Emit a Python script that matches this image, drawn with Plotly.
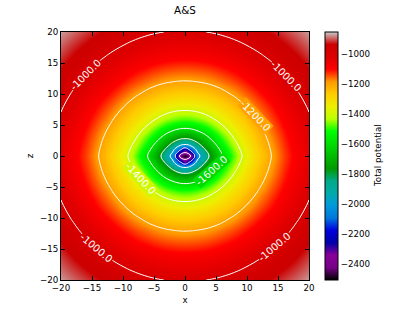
import plotly.graph_objects as go

# Quadrant grid (x >= 0, z >= 0); the field is mirrored to the other quadrants
grid_q = [0, 1, 2, 3, 4, 5, 6, 8, 10, 12, 14, 16, 18, 20]

# Total potential read/estimated on the quadrant grid: rows = z, columns = x
phi_q = [
    [-2500.0, -2390.0, -2066.4, -1903.0, -1783.9, -1685.8, -1601.8, -1464.3, -1356.5, -1269.4, -1197.4, -1136.3, -1083.5, -1037.2],
    [-2318.9, -2148.4, -1960.4, -1831.0, -1730.1, -1644.9, -1570.3, -1445.2, -1344.4, -1261.5, -1191.8, -1132.4, -1080.5, -1035.2],
    [-1945.9, -1904.6, -1821.4, -1737.2, -1660.6, -1591.4, -1528.5, -1418.8, -1327.1, -1249.5, -1183.6, -1126.3, -1075.9, -1031.3],
    [-1762.7, -1745.4, -1702.3, -1648.4, -1592.1, -1537.5, -1485.3, -1390.2, -1307.5, -1235.8, -1173.4, -1118.6, -1070.1, -1026.9],
    [-1641.4, -1631.7, -1605.8, -1569.4, -1528.1, -1485.1, -1442.2, -1360.3, -1286.4, -1220.5, -1162.1, -1110.0, -1063.4, -1021.4],
    [-1550.1, -1544.1, -1526.6, -1500.8, -1469.7, -1435.5, -1400.2, -1330.3, -1264.3, -1204.0, -1149.4, -1100.2, -1055.6, -1015.2],
    [-1476.9, -1472.5, -1460.0, -1440.8, -1416.7, -1389.3, -1360.2, -1300.3, -1241.8, -1186.9, -1136.2, -1089.7, -1047.2, -1008.5],
    [-1362.7, -1360.1, -1352.7, -1340.9, -1325.3, -1307.1, -1286.7, -1242.3, -1196.1, -1150.9, -1107.5, -1066.5, -1028.5, -992.8],
    [-1274.9, -1273.2, -1268.3, -1260.4, -1249.5, -1236.6, -1221.8, -1188.1, -1151.8, -1114.4, -1077.5, -1041.7, -1007.8, -975.3],
    [-1203.5, -1202.4, -1198.7, -1193.1, -1185.3, -1175.6, -1164.5, -1138.5, -1109.3, -1078.3, -1047.1, -1016.0, -985.7, -956.7],
    [-1143.5, -1142.5, -1140.1, -1135.6, -1129.7, -1122.2, -1113.7, -1093.1, -1069.3, -1043.6, -1016.9, -990.0, -963.2, -936.9],
    [-1091.6, -1090.9, -1088.9, -1085.4, -1080.8, -1074.9, -1068.0, -1051.3, -1031.8, -1010.3, -987.6, -964.0, -940.3, -916.7],
    [-1045.9, -1045.3, -1043.8, -1040.9, -1037.4, -1032.5, -1026.9, -1013.4, -997.1, -978.7, -959.2, -938.6, -917.5, -896.3],
    [-1005.2, -1004.9, -1003.4, -1001.3, -998.2, -994.3, -989.7, -978.2, -964.3, -948.9, -931.7, -913.7, -895.0, -875.9],
]

contour_start, contour_end, contour_step = -2400, -1000, 200
contour_levels = [-2400, -2200, -2000, -1800, -1600, -1400, -1200, -1000]
cbar_ticks = [-2400, -2200, -2000, -1800, -1600, -1400, -1200, -1000]
axis_ticks = [-20, -15, -10, -5, 0, 5, 10, 15, 20]
z_lo, z_hi = -2504, -855

# Inline contour labels as in the reference: level, x, z, angle
label_levels = [-1000, -1000, -1000, -1000, -1200, -1400, -1600]
label_x = [-16.0, 16.4, -14.2, 14.5, 11.3, -7.2, 4.3]
label_z = [13.2, 12.9, -14.9, -14.6, 6.5, -3.7, -2.3]
label_angle = [-45, 45, 40, -40, 46, 47, -42]

# matplotlib nipy_spectral
nipy = [
    (0.00, (0.0, 0.0, 0.0)), (0.05, (0.4667, 0.0, 0.5333)), (0.10, (0.5333, 0.0, 0.6)),
    (0.15, (0.0, 0.0, 0.6667)), (0.20, (0.0, 0.0, 0.8667)), (0.25, (0.0, 0.4667, 0.8667)),
    (0.30, (0.0, 0.6, 0.8667)), (0.35, (0.0, 0.6667, 0.6667)), (0.40, (0.0, 0.6667, 0.5333)),
    (0.45, (0.0, 0.6, 0.0)), (0.50, (0.0, 0.7333, 0.0)), (0.55, (0.0, 0.8667, 0.0)),
    (0.60, (0.0, 1.0, 0.0)), (0.65, (0.7333, 1.0, 0.0)), (0.70, (0.9333, 0.9333, 0.0)),
    (0.75, (1.0, 0.8, 0.0)), (0.80, (1.0, 0.6, 0.0)), (0.85, (1.0, 0.0, 0.0)),
    (0.90, (0.8667, 0.0, 0.0)), (0.95, (0.8, 0.0, 0.0)), (1.00, (0.8, 0.8, 0.8)),
]
colorscale = [[p, "rgb(%d,%d,%d)" % tuple(round(c * 255) for c in rgb)] for p, rgb in nipy]


def color_at(v):
    t = min(max((v - z_lo) / (z_hi - z_lo), 0.0), 1.0)
    for (p0, c0), (p1, c1) in zip(nipy[:-1], nipy[1:]):
        if p0 <= t <= p1:
            f = (t - p0) / (p1 - p0)
            return "rgb(%d,%d,%d)" % tuple(round((a + (b - a) * f) * 255) for a, b in zip(c0, c1))
    return "rgb(204,204,204)"


def mirror(seq):
    return [seq[i] for i in range(len(seq) - 1, 0, -1)] + list(seq)


coords = [-c for c in grid_q[::-1][:-1]] + grid_q
z_full = [mirror(row) for row in mirror(phi_q)]

minus = lambda v: str(v).replace("-", "\u2212")
FONT = "DejaVu Sans"
TICK = 8.7

CB_X = 1.0645
CB_W = 13 / 248

fig = go.Figure()
fig.add_trace(go.Heatmap(
    x=coords, y=coords, z=z_full, zsmooth="best",
    colorscale=colorscale, zmin=z_lo, zmax=z_hi,
    colorbar=dict(
        x=CB_X, xanchor="left", xpad=0, y=0.5, yanchor="middle", ypad=0,
        len=1, lenmode="fraction", thickness=13, thicknessmode="pixels",
        outlinecolor="black", outlinewidth=1,
        tickvals=cbar_ticks, ticktext=[minus(v) for v in cbar_ticks],
        ticks="outside", ticklen=1, tickcolor="rgba(0,0,0,0)",
        tickfont=dict(family=FONT, size=TICK, color="black"),
    ),
    hoverinfo="skip",
))
fig.add_trace(go.Contour(
    x=coords, y=coords, z=z_full, showscale=False,
    contours=dict(start=contour_start, end=contour_end, size=contour_step, coloring="none",
                  showlabels=False),
    line=dict(color="white", width=1, smoothing=1.3),
    hoverinfo="skip",
))

annotations = []
for lv, lx, lz, ang in zip(label_levels, label_x, label_z, label_angle):
    annotations.append(dict(
        x=lx, y=lz, xref="x", yref="y", text="%.1f" % lv, showarrow=False,
        textangle=ang, font=dict(family=FONT, size=10, color="white"),
        bgcolor=color_at(lv), borderpad=0,
    ))
# colorbar label
annotations.append(dict(
    x=(378 - 61) / 248, y=0.5, xref="paper", yref="paper", text="Total potential",
    showarrow=False, textangle=-90, xanchor="center", yanchor="middle",
    font=dict(family=FONT, size=TICK, color="black"),
))

# contour level marks on the colorbar (like matplotlib's cbar.add_lines)
shapes = []
for lv in contour_levels:
    yp = (lv - z_lo) / (z_hi - z_lo)
    shapes.append(dict(type="line", xref="paper", yref="paper", x0=CB_X, x1=CB_X + CB_W,
                       y0=yp, y1=yp, line=dict(color="white", width=1)))

axis_common = dict(
    range=[-20, 20], tickvals=axis_ticks, ticktext=[minus(v) for v in axis_ticks],
    ticks="inside", ticklen=4, tickcolor="black", tickwidth=1,
    showline=True, linecolor="black", linewidth=1, mirror="ticks",
    showgrid=False, zeroline=False,
    tickfont=dict(family=FONT, size=TICK, color="black"),
)
fig.update_layout(
    width=415, height=312,
    margin=dict(l=61, r=106, t=32, b=32, autoexpand=False),
    paper_bgcolor="white", plot_bgcolor="white",
    title=dict(text="A&S", x=0.5, xref="paper", xanchor="center", y=1 - 7 / 312, yanchor="top",
               font=dict(family=FONT, size=10.4, color="black")),
    xaxis=dict(axis_common, title=dict(text="x", font=dict(family=FONT, size=TICK, color="black"), standoff=4)),
    yaxis=dict(axis_common, title=dict(text="z", font=dict(family=FONT, size=TICK, color="black"), standoff=4)),
    annotations=annotations,
    shapes=shapes,
    showlegend=False,
)
fig.write_html("out.html", config={"displayModeBar": False},
               post_script="document.body.style.margin='0';")
